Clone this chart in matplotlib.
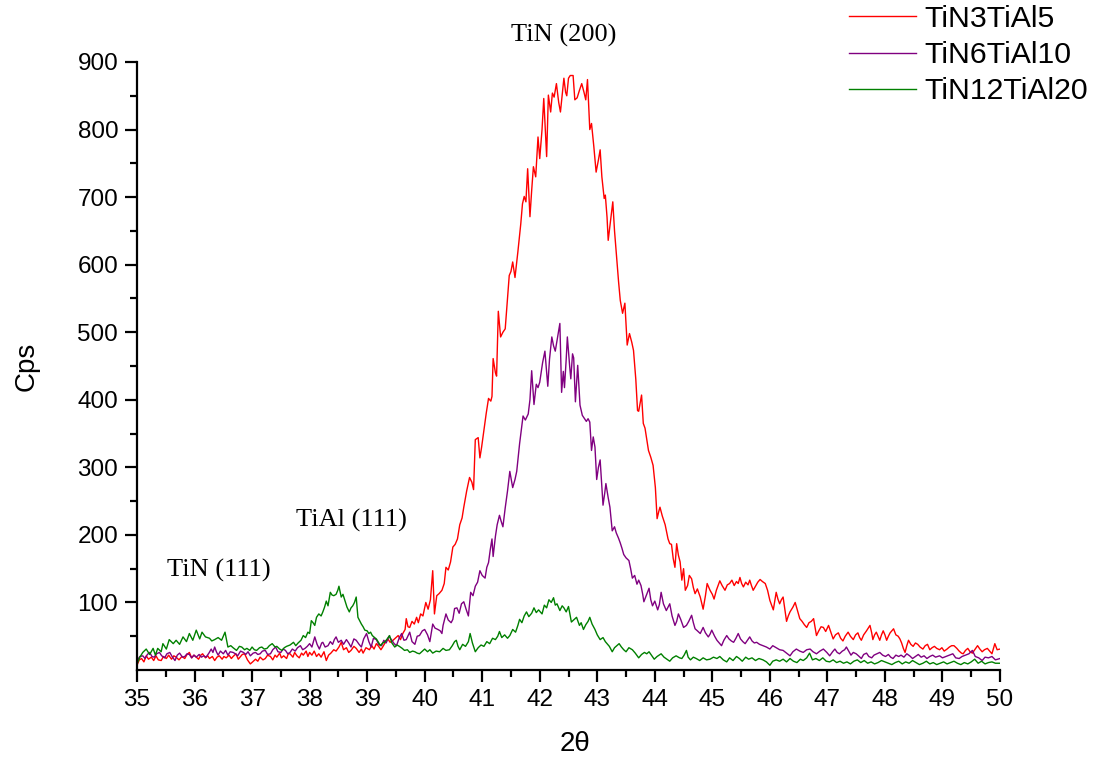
import numpy as np
import matplotlib
matplotlib.use("Agg")
import matplotlib.pyplot as plt

# ---------------- data (2theta, counts per second) ----------------
series_names = ["TiN3TiAl5", "TiN6TiAl10", "TiN12TiAl20"]
series_colors = ["#FF0000", "#800080", "#008000"]

tin3_pts = [
(35.00,7),(35.04,15),(35.08,17),(35.12,12),(35.16,21),(35.20,16),(35.25,19),(35.29,14),(35.33,21),(35.37,15),
(35.42,14),(35.46,20),(35.51,17),(35.55,22),(35.60,16),(35.64,21),(35.68,19),(35.73,15),(35.78,20),(35.83,17),
(35.87,23),(35.91,26),(35.95,18),(35.99,22),(36.03,19),(36.07,16),(36.11,22),(36.14,24),(36.19,18),(36.23,21),
(36.26,17),(36.31,20),(36.35,14),(36.39,19),(36.43,21),(36.48,16),(36.51,20),(36.55,18),(36.60,22),(36.64,17),
(36.67,20),(36.72,24),(36.76,16),(36.79,19),(36.83,23),(36.87,24),(36.92,15),(36.97,9),(37.01,12),(37.06,16),
(37.10,13),(37.14,19),(37.19,15),(37.23,17),(37.27,22),(37.32,20),(37.36,15),(37.40,22),(37.43,19),(37.48,25),
(37.51,18),(37.55,21),(37.60,17),(37.63,24),(37.66,24),(37.71,19),(37.74,26),(37.78,21),(37.82,18),(37.86,25),
(37.89,22),(37.94,28),(37.97,20),(38.00,26),(38.04,22),(38.08,28),(38.12,20),(38.16,24),(38.20,19),(38.25,27),
(38.29,14),(38.33,22),(38.37,25),(38.42,30),(38.46,28),(38.51,34),(38.55,41),(38.59,30),(38.64,33),(38.68,26),
(38.72,29),(38.77,35),(38.81,32),(38.86,26),(38.90,31),(38.93,25),(38.98,33),(39.04,30),(39.08,36),(39.12,31),
(39.16,39),(39.20,35),(39.24,30),(39.27,34),(39.31,40),(39.36,46),(39.40,41),(39.45,44),(39.50,48),(39.54,51),
(39.58,45),(39.62,54),(39.66,60),(39.68,76),(39.71,64),(39.74,63),(39.78,72),(39.82,68),(39.86,78),(39.89,70),
(39.93,83),(39.97,80),(40.02,100),(40.06,90),(40.10,104),(40.14,147),(40.17,83),(40.21,110),(40.25,113),(40.30,118),
(40.34,128),(40.37,152),(40.41,148),(40.45,160),(40.49,182),(40.53,186),(40.57,194),(40.61,215),(40.65,225),(40.68,241),
(40.73,265),(40.78,285),(40.82,278),(40.85,267),(40.88,341),(40.93,344),(40.96,314),(40.99,330),(41.02,349),(41.07,380),
(41.11,402),(41.15,398),(41.17,405),(41.19,461),(41.23,440),(41.25,435),(41.28,531),(41.32,493),(41.36,500),(41.40,505),
(41.44,550),(41.47,584),(41.50,590),(41.53,604),(41.57,581),(41.62,619),(41.67,660),(41.70,690),(41.73,701),(41.76,693),
(41.79,742),(41.83,671),(41.86,710),(41.89,745),(41.93,730),(41.97,789),(42.00,757),(42.04,800),(42.07,846),(42.12,760),
(42.15,851),(42.19,826),(42.22,854),(42.25,848),(42.29,868),(42.33,840),(42.36,826),(42.40,860),(42.42,876),(42.45,855),
(42.47,850),(42.50,876),(42.53,880),(42.56,880),(42.58,880),(42.61,844),(42.65,847),(42.69,858),(42.73,868),(42.77,855),
(42.80,844),(42.83,874),(42.87,800),(42.90,809),(42.94,775),(42.98,737),(43.02,755),(43.05,770),(43.08,730),(43.12,698),
(43.14,703),(43.17,670),(43.19,636),(43.23,665),(43.27,693),(43.30,650),(43.34,607),(43.37,575),(43.40,547),(43.44,528),
(43.48,543),(43.52,481),(43.56,498),(43.60,485),(43.63,473),(43.67,430),(43.70,384),(43.72,383),(43.77,407),(43.80,365),
(43.83,358),(43.89,325),(43.93,315),(43.97,303),(44.01,270),(44.04,224),(44.07,235),(44.09,241),(44.13,228),(44.18,215),
(44.23,194),(44.26,187),(44.29,186),(44.32,165),(44.35,152),(44.38,187),(44.41,170),(44.44,160),(44.47,133),(44.50,150),
(44.53,118),(44.57,125),(44.60,140),(44.64,135),(44.67,122),(44.70,113),(44.74,120),(44.79,108),(44.84,90),(44.88,110),
(44.91,128),(44.96,118),(45.00,112),(45.03,105),(45.07,118),(45.10,125),(45.13,132),(45.17,125),(45.22,118),(45.26,126),
(45.30,128),(45.34,133),(45.38,125),(45.42,131),(45.45,128),(45.48,137),(45.51,128),(45.54,123),(45.58,130),(45.62,126),
(45.65,133),(45.68,125),(45.71,118),(45.75,124),(45.79,130),(45.83,134),(45.87,131),(45.92,128),(45.96,118),(46.00,103),
(46.03,96),(46.06,89),(46.11,115),(46.14,105),(46.17,98),(46.20,104),(46.23,108),(46.26,90),(46.29,72),(46.32,80),
(46.35,86),(46.40,93),(46.44,100),(46.48,88),(46.52,76),(46.56,72),(46.60,67),(46.64,63),(46.68,70),(46.72,72),
(46.76,76),(46.81,51),(46.85,58),(46.89,64),(46.93,63),(46.97,57),(47.02,66),(47.06,56),(47.10,46),(47.14,52),
(47.19,55),(47.23,47),(47.27,43),(47.31,50),(47.36,56),(47.40,50),(47.45,45),(47.49,52),(47.53,55),(47.56,48),
(47.59,44),(47.63,52),(47.68,58),(47.71,62),(47.74,66),(47.77,55),(47.79,45),(47.82,52),(47.85,56),(47.88,50),
(47.91,44),(47.94,52),(47.97,58),(48.00,52),(48.03,44),(48.06,50),(48.09,55),(48.12,58),(48.15,61),(48.19,52),
(48.23,50),(48.26,46),(48.29,40),(48.32,32),(48.35,26),(48.38,36),(48.41,44),(48.45,38),(48.49,35),(48.53,40),
(48.57,38),(48.61,34),(48.66,31),(48.70,36),(48.74,38),(48.78,30),(48.82,33),(48.86,35),(48.90,32),(48.95,30),
(48.99,33),(49.03,28),(49.08,31),(49.12,34),(49.16,36),(49.20,36),(49.25,32),(49.29,28),(49.33,25),(49.36,24),
(49.40,29),(49.44,32),(49.48,27),(49.52,25),(49.56,30),(49.61,36),(49.65,31),(49.69,27),(49.73,30),(49.78,32),
(49.82,28),(49.86,24),(49.91,39),(49.95,30),(50.00,31),
]

tin6_pts = [
(35.00,14),(35.05,20),(35.10,21),(35.14,17),(35.18,23),(35.22,26),(35.26,20),(35.30,19),(35.34,24),(35.39,26),
(35.43,21),(35.48,18),(35.52,24),(35.57,26),(35.61,20),(35.66,14),(35.70,22),(35.74,25),(35.79,19),(35.83,20),
(35.87,24),(35.91,23),(35.95,18),(35.99,22),(36.03,19),(36.08,23),(36.12,19),(36.16,21),(36.20,19),(36.25,25),
(36.29,31),(36.32,26),(36.35,34),(36.38,27),(36.41,22),(36.45,28),(36.50,24),(36.54,29),(36.58,22),(36.62,27),
(36.67,26),(36.71,24),(36.75,21),(36.80,28),(36.85,26),(36.89,23),(36.93,27),(36.97,21),(37.02,25),(37.06,26),
(37.10,23),(37.14,24),(37.18,28),(37.23,29),(37.27,23),(37.32,24),(37.36,30),(37.41,34),(37.45,27),(37.50,26),
(37.54,31),(37.58,29),(37.62,24),(37.66,26),(37.70,31),(37.75,28),(37.79,33),(37.84,36),(37.88,30),(37.92,32),
(37.96,35),(38.00,39),(38.04,34),(38.09,49),(38.13,38),(38.17,31),(38.21,40),(38.23,41),(38.27,34),(38.32,36),
(38.36,42),(38.40,38),(38.43,45),(38.46,49),(38.50,41),(38.55,44),(38.59,38),(38.64,45),(38.68,40),(38.72,34),
(38.77,46),(38.81,44),(38.86,38),(38.90,34),(38.94,46),(38.99,54),(39.03,42),(39.07,34),(39.11,47),(39.16,45),
(39.20,38),(39.25,36),(39.29,44),(39.33,40),(39.38,50),(39.42,45),(39.47,39),(39.51,36),(39.56,48),(39.60,54),
(39.64,44),(39.68,45),(39.74,56),(39.78,42),(39.83,38),(39.87,50),(39.91,51),(39.96,58),(40.00,60),(40.05,52),
(40.09,42),(40.14,68),(40.18,62),(40.23,60),(40.27,58),(40.30,54),(40.32,66),(40.37,83),(40.41,74),(40.46,70),
(40.49,75),(40.52,91),(40.56,92),(40.60,84),(40.64,98),(40.68,101),(40.72,90),(40.76,80),(40.80,115),(40.84,110),
(40.88,124),(40.92,130),(40.96,147),(41.00,140),(41.05,136),(41.08,152),(41.11,159),(41.14,178),(41.17,194),(41.19,168),
(41.23,198),(41.26,215),(41.30,229),(41.33,220),(41.36,212),(41.40,240),(41.44,265),(41.48,294),(41.53,270),(41.57,282),
(41.60,294),(41.65,335),(41.68,355),(41.71,376),(41.75,370),(41.80,379),(41.83,400),(41.86,443),(41.90,393),(41.94,423),
(41.97,418),(42.00,426),(42.05,455),(42.09,472),(42.14,420),(42.17,460),(42.21,493),(42.24,480),(42.27,472),(42.31,493),
(42.35,513),(42.38,411),(42.41,442),(42.43,418),(42.46,460),(42.48,493),(42.52,450),(42.54,431),(42.57,468),(42.59,462),
(42.62,397),(42.66,451),(42.70,392),(42.74,377),(42.78,372),(42.81,368),(42.84,372),(42.87,367),(42.90,325),(42.93,345),
(42.96,330),(42.99,282),(43.02,300),(43.05,311),(43.08,270),(43.10,244),(43.13,262),(43.15,276),(43.19,255),(43.22,241),
(43.26,206),(43.30,212),(43.33,203),(43.37,195),(43.40,188),(43.43,180),(43.46,171),(43.50,166),(43.55,162),(43.58,150),
(43.61,136),(43.65,140),(43.69,127),(43.72,133),(43.76,125),(43.79,112),(43.81,101),(43.85,110),(43.90,121),(43.93,104),
(43.96,95),(44.00,102),(44.05,89),(44.08,97),(44.11,115),(44.15,98),(44.20,88),(44.23,93),(44.26,98),(44.30,80),
(44.35,66),(44.38,72),(44.41,83),(44.45,75),(44.50,63),(44.55,66),(44.59,72),(44.64,81),(44.67,70),(44.70,61),
(44.74,58),(44.79,54),(44.84,63),(44.88,55),(44.93,49),(44.96,53),(44.99,59),(45.04,50),(45.08,44),(45.12,40),
(45.16,36),(45.20,44),(45.25,51),(45.29,46),(45.33,43),(45.37,41),(45.41,47),(45.45,54),(45.49,46),(45.53,42),
(45.57,39),(45.61,44),(45.65,49),(45.69,43),(45.73,40),(45.77,41),(45.82,38),(45.88,36),(45.94,34),(46.00,31),
(46.05,36),(46.11,33),(46.17,30),(46.23,29),(46.29,25),(46.35,21),(46.40,27),(46.46,31),(46.52,28),(46.58,26),
(46.64,30),(46.70,31),(46.75,27),(46.81,24),(46.87,28),(46.93,31),(46.99,26),(47.04,21),(47.09,27),(47.13,31),
(47.17,26),(47.21,24),(47.26,28),(47.30,30),(47.33,34),(47.37,28),(47.41,22),(47.45,26),(47.50,24),(47.54,21),
(47.59,17),(47.63,23),(47.68,25),(47.72,20),(47.77,18),(47.81,22),(47.86,24),(47.91,26),(47.96,22),(48.01,20),
(48.06,23),(48.10,19),(48.14,17),(48.19,22),(48.24,20),(48.28,22),(48.33,19),(48.38,24),(48.43,21),(48.48,17),
(48.53,20),(48.58,23),(48.63,19),(48.68,21),(48.73,17),(48.78,20),(48.83,22),(48.88,19),(48.95,21),(49.00,18),
(49.06,20),(49.12,22),(49.18,24),(49.23,18),(49.29,17),(49.34,20),(49.40,22),(49.46,24),(49.52,29),(49.57,20),
(49.63,18),(49.69,14),(49.74,19),(49.80,18),(49.86,20),(49.92,15),(50.00,17),
]

tin12_pts = [
(35.00,9),(35.05,19),(35.10,26),(35.16,31),(35.22,23),(35.28,32),(35.32,22),(35.36,32),(35.42,27),(35.45,39),
(35.51,31),(35.56,45),(35.63,39),(35.68,44),(35.74,38),(35.80,49),(35.86,42),(35.91,54),(35.97,44),(36.03,59),
(36.09,46),(36.13,56),(36.19,49),(36.26,47),(36.30,43),(36.35,45),(36.41,48),(36.47,44),(36.53,56),(36.58,34),
(36.63,36),(36.67,33),(36.73,29),(36.78,35),(36.82,34),(36.87,30),(36.91,32),(36.96,29),(37.00,34),(37.04,30),
(37.08,29),(37.13,33),(37.17,34),(37.21,31),(37.26,32),(37.30,36),(37.35,39),(37.40,34),(37.43,35),(37.48,31),
(37.52,29),(37.56,33),(37.60,35),(37.66,37),(37.72,41),(37.76,36),(37.80,40),(37.85,44),(37.89,51),(37.93,48),
(37.97,56),(38.00,54),(38.03,73),(38.06,70),(38.09,66),(38.12,78),(38.16,83),(38.20,80),(38.23,86),(38.26,93),
(38.29,102),(38.32,95),(38.36,115),(38.39,111),(38.42,110),(38.46,112),(38.49,118),(38.51,124),(38.55,108),(38.58,112),
(38.61,104),(38.65,93),(38.69,86),(38.72,92),(38.75,95),(38.78,100),(38.81,108),(38.84,78),(38.87,73),(38.90,68),
(38.93,64),(38.96,59),(39.00,58),(39.03,54),(39.06,56),(39.09,51),(39.13,48),(39.16,46),(39.19,42),(39.23,36),
(39.27,40),(39.30,41),(39.34,45),(39.39,51),(39.43,40),(39.48,34),(39.52,37),(39.56,35),(39.61,32),(39.65,29),
(39.70,30),(39.74,26),(39.79,28),(39.83,27),(39.87,25),(39.91,24),(39.96,28),(40.00,31),(40.05,27),(40.09,30),
(40.14,25),(40.20,28),(40.26,27),(40.32,32),(40.37,29),(40.43,30),(40.48,36),(40.52,42),(40.55,44),(40.58,35),
(40.61,30),(40.66,38),(40.71,35),(40.76,42),(40.79,54),(40.83,40),(40.88,27),(40.93,33),(40.98,37),(41.03,35),
(41.08,42),(41.13,39),(41.18,47),(41.23,45),(41.27,50),(41.30,57),(41.34,48),(41.39,52),(41.44,47),(41.48,51),
(41.53,60),(41.58,56),(41.62,66),(41.65,75),(41.69,70),(41.73,80),(41.77,86),(41.81,79),(41.86,84),(41.90,92),
(41.94,85),(41.98,89),(42.04,83),(42.08,96),(42.12,92),(42.16,104),(42.20,100),(42.24,107),(42.27,96),(42.30,98),
(42.35,88),(42.39,95),(42.42,92),(42.46,86),(42.50,94),(42.55,71),(42.60,75),(42.64,78),(42.69,66),(42.72,70),
(42.76,60),(42.80,67),(42.84,72),(42.87,78),(42.91,68),(42.96,60),(43.00,52),(43.05,45),(43.10,48),(43.14,42),
(43.17,39),(43.21,35),(43.26,27),(43.30,33),(43.34,36),(43.38,39),(43.42,34),(43.46,30),(43.50,27),(43.55,33),
(43.61,30),(43.66,25),(43.72,18),(43.77,23),(43.82,26),(43.86,24),(43.90,27),(43.95,21),(43.99,16),(44.04,20),
(44.11,24),(44.16,19),(44.21,16),(44.26,13),(44.31,18),(44.37,21),(44.43,18),(44.47,17),(44.51,22),(44.55,29),
(44.58,19),(44.62,15),(44.67,19),(44.72,17),(44.78,14),(44.84,18),(44.90,15),(44.96,16),(45.02,19),(45.08,17),
(45.13,20),(45.19,15),(45.25,12),(45.30,18),(45.36,14),(45.42,20),(45.47,17),(45.52,13),(45.58,19),(45.63,16),
(45.69,18),(45.75,14),(45.81,17),(45.88,15),(45.94,12),(46.00,7),(46.05,13),(46.11,15),(46.17,13),(46.23,16),
(46.29,12),(46.35,17),(46.41,13),(46.47,11),(46.53,16),(46.58,14),(46.64,18),(46.69,25),(46.74,15),(46.80,17),
(46.86,14),(46.92,18),(46.98,13),(47.04,12),(47.10,15),(47.16,11),(47.22,13),(47.28,10),(47.34,12),(47.40,9),
(47.46,13),(47.52,15),(47.58,11),(47.64,14),(47.70,10),(47.76,12),(47.82,9),(47.88,11),(47.94,14),(48.00,12),
(48.06,10),(48.12,8),(48.18,11),(48.24,13),(48.30,9),(48.36,12),(48.42,10),(48.48,14),(48.54,11),(48.60,8),
(48.66,10),(48.72,13),(48.78,9),(48.84,11),(48.90,8),(48.96,10),(49.02,12),(49.08,9),(49.14,11),(49.20,13),
(49.26,10),(49.32,8),(49.38,11),(49.44,9),(49.50,12),(49.56,16),(49.62,10),(49.68,13),(49.74,9),(49.80,11),
(49.86,12),(49.92,10),(50.00,10),
]

peak_labels = ["TiN (111)", "TiAl (111)", "TiN (200)"]
peak_label_x = [36.43, 38.72, 42.42]
peak_label_y = [147, 221, 940]

x_ticks = list(range(35, 51))
y_ticks = list(range(100, 1000, 100))

# ---------------- figure ----------------
W, H = 1101, 758
fig = plt.figure(figsize=(W / 100, H / 100), dpi=100)
ax = fig.add_axes([137 / W, (H - 670) / H, 863 / W, 608 / H])

sans = ["Liberation Sans", "DejaVu Sans"]
serif = ["Liberation Serif", "DejaVu Serif"]

for name, col, pts in zip(series_names, series_colors, [tin3_pts, tin6_pts, tin12_pts]):
    arr = np.array(pts, dtype=float)
    ax.plot(arr[:, 0], arr[:, 1], color=col, lw=1.0, label=name)

ax.set_xlim(35, 50)
ax.set_ylim(0, 900)
ax.set_xticks(x_ticks)
ax.set_xticks(np.arange(35.5, 50, 1.0), minor=True)
ax.set_yticks(y_ticks)
ax.set_yticks(np.arange(50, 900, 100), minor=True)

for s in ["top", "right"]:
    ax.spines[s].set_visible(False)
for s in ["left", "bottom"]:
    ax.spines[s].set_linewidth(1.6)

ax.tick_params(which="major", direction="out", length=8.5, width=1.6, labelsize=17.5, pad=5)
ax.tick_params(which="minor", direction="out", length=5, width=1.6)
for lab in ax.get_xticklabels() + ax.get_yticklabels():
    lab.set_fontfamily(sans)

ax.set_ylabel("Cps", fontsize=20, family=sans)
ax.yaxis.set_label_coords(-0.113, 0.5)
ax.set_xlabel("2θ", fontsize=20, family=sans)
ax.xaxis.set_label_coords(0.507, -0.101)

for t, xx, yy in zip(peak_labels, peak_label_x, peak_label_y):
    ax.text(xx, yy, t, ha="center", va="center", fontsize=19, family=serif, clip_on=False)

leg = fig.legend(loc="upper left", bbox_to_anchor=(849 / W, 1 - 5 / H), frameon=False,
                 prop={"family": sans, "size": 21.8}, handlelength=2.2, handletextpad=0.3,
                 labelspacing=0.27, borderaxespad=0.0, borderpad=0.0)
for line in leg.get_lines():
    line.set_linewidth(1.0)

fig.savefig("out.png", dpi=100)
